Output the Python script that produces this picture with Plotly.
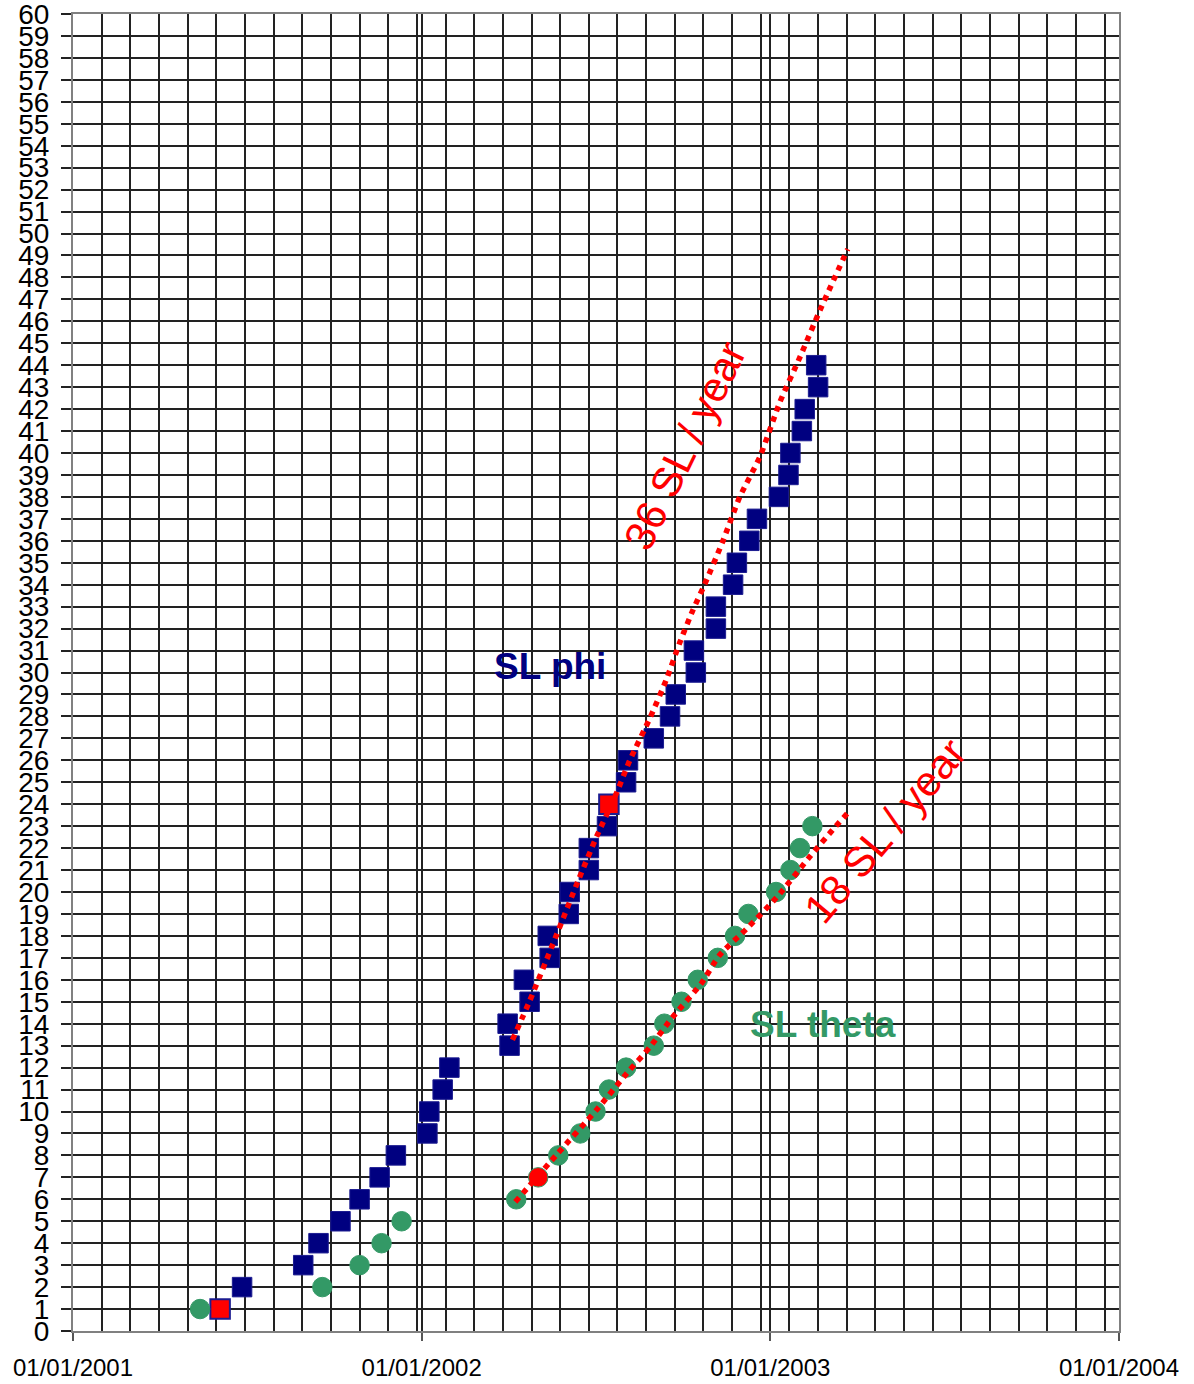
import plotly.graph_objects as go

# ---------------- data ----------------
phi_dates = [
    "2001-06-04", "2001-06-27", "2001-08-30", "2001-09-15", "2001-10-08",
    "2001-10-28", "2001-11-18", "2001-12-05", "2002-01-07", "2002-01-09",
    "2002-01-23", "2002-01-30", "2002-04-03", "2002-04-01", "2002-04-24",
    "2002-04-18", "2002-05-15", "2002-05-13", "2002-06-04", "2002-06-05",
    "2002-06-25", "2002-06-25", "2002-07-14", "2002-07-16", "2002-08-03",
    "2002-08-05", "2002-09-01", "2002-09-18", "2002-09-24", "2002-10-15",
    "2002-10-13", "2002-11-05", "2002-11-05", "2002-11-23", "2002-11-27",
    "2002-12-10", "2002-12-18", "2003-01-10", "2003-01-20", "2003-01-22",
    "2003-02-03", "2003-02-06", "2003-02-20", "2003-02-18",
]
phi_counts = [
    1, 2, 3, 4, 5, 6, 7, 8, 9, 10, 11, 12, 13, 14, 15, 16, 17, 18, 19, 20, 21, 22,
    23, 24, 25, 26, 27, 28, 29, 30, 31, 32, 33, 34, 35, 36, 37, 38, 39, 40, 41, 42, 43, 44,
]
phi_highlight = [0, 23]   # points drawn in red

theta_dates = [
    "2001-05-14", "2001-09-19", "2001-10-28", "2001-11-20", "2001-12-11",
    "2002-04-10", "2002-05-03", "2002-05-24", "2002-06-16", "2002-07-02",
    "2002-07-16", "2002-08-03", "2002-09-01", "2002-09-12", "2002-09-30",
    "2002-10-17", "2002-11-07", "2002-11-25", "2002-12-09", "2003-01-07",
    "2003-01-22", "2003-02-01", "2003-02-14",
]
theta_counts = [1, 2, 3, 4, 5, 6, 7, 8, 9, 10, 11, 12, 13, 14, 15, 16, 17, 18, 19, 20, 21, 22, 23]
theta_highlight = [6]

phi_trend_dates = [
    "2002-04-06", "2002-04-24", "2002-05-18", "2002-06-15", "2002-07-03",
    "2002-07-24", "2002-08-07", "2002-08-28", "2002-09-14", "2002-09-28",
    "2002-10-12", "2002-10-24", "2002-11-12", "2002-11-30", "2002-12-21",
    "2003-01-11", "2003-02-01", "2003-02-22", "2003-03-23",
]
phi_trend_values = [
    13.26, 15.03, 17.59, 20.64, 22.51, 24.51, 26.01, 27.93, 29.66, 31.34,
    32.85, 33.99, 35.95, 38.0, 39.82, 42.32, 44.37, 46.51, 49.29,
]

theta_trend_dates = [
    "2002-04-09", "2002-05-22", "2002-07-03", "2002-08-04", "2002-08-28",
    "2002-09-20", "2002-10-21", "2002-11-09", "2002-12-08", "2003-01-08",
    "2003-02-11", "2003-03-07", "2003-03-23",
]
theta_trend_values = [5.88, 8.02, 10.07, 11.75, 12.94, 14.26, 15.85, 17.13, 18.36, 19.77, 21.59, 22.82, 23.6]

x_tick_vals = ["2001-01-01", "2002-01-01", "2003-01-01", "2004-01-01"]
x_tick_text = ["01/01/2001", "01/01/2002", "01/01/2003", "01/01/2004"]
y_tick_vals = list(range(0, 61))

# ---------------- styling ----------------
NAVY = "#000080"
GREEN = "#339966"
RED = "#FF0000"
GRID = "#222222"
FONT = "Liberation Sans, Arial, sans-serif"

phi_colors = [RED if i in phi_highlight else NAVY for i in range(len(phi_dates))]
phi_line_w = [2 if i in phi_highlight else 1 for i in range(len(phi_dates))]
theta_colors = [RED if i in theta_highlight else GREEN for i in range(len(theta_dates))]
theta_line_c = [GREEN for _ in theta_dates]

fig = go.Figure()

fig.add_trace(go.Scatter(
    x=phi_dates, y=phi_counts, mode="markers", name="SL phi",
    marker=dict(symbol="square", size=19.5, color=phi_colors,
                line=dict(color="#1c1c90", width=phi_line_w)),
))
fig.add_trace(go.Scatter(
    x=theta_dates, y=theta_counts, mode="markers", name="SL theta",
    marker=dict(symbol="circle", size=19.5, color=theta_colors,
                line=dict(color=theta_line_c, width=1)),
))
fig.add_trace(go.Scatter(
    x=phi_trend_dates, y=phi_trend_values, mode="lines", name="36 SL / year",
    line=dict(color=RED, width=5.5, dash="dot", shape="spline", smoothing=0.6),
))
fig.add_trace(go.Scatter(
    x=theta_trend_dates, y=theta_trend_values, mode="lines", name="18 SL / year",
    line=dict(color=RED, width=5.5, dash="dot", shape="spline", smoothing=0.6),
))

fig.update_layout(
    width=1194, height=1384,
    margin=dict(l=73, r=75, t=14, b=53, pad=0),
    paper_bgcolor="white", plot_bgcolor="white",
    showlegend=False,
    font=dict(family=FONT, color="black"),
)

fig.update_xaxes(
    type="date", range=["2001-01-01", "2004-01-01"],
    tickmode="array", tickvals=x_tick_vals, ticktext=x_tick_text,
    tickfont=dict(size=24, family=FONT, color="black"),
    ticks="outside", ticklen=8, tickwidth=1.5, tickcolor="#555555",
    ticklabelstandoff=6, ticklabeloverflow="allow",
    showgrid=True, gridcolor=GRID, gridwidth=1.5,
    minor=dict(tickmode="linear", tick0="2001-01-01", dtick=30 * 86400000,
               showgrid=True, gridcolor=GRID, gridwidth=1.5, ticks=""),
    showline=True, linecolor="#808080", linewidth=2, mirror=True,
    zeroline=False, automargin=False,
)
fig.update_yaxes(
    range=[0, 60], tickmode="array", tickvals=y_tick_vals,
    tickfont=dict(size=28, family=FONT, color="black"),
    ticks="outside", ticklen=10, tickwidth=1.5, tickcolor=GRID,
    ticklabelstandoff=6, ticklabeloverflow="allow",
    showgrid=True, gridcolor=GRID, gridwidth=1.5,
    showline=True, linecolor="#808080", linewidth=2, mirror=True,
    zeroline=False, automargin=False,
)

fig.add_annotation(x=0.4557, y=0.5049, xref="paper", yref="paper", text="<b>SL phi</b>",
                   showarrow=False, font=dict(size=37, color=NAVY, family=FONT),
                   xanchor="center", yanchor="middle")
fig.add_annotation(x=0.7167, y=0.2331, xref="paper", yref="paper", text="<b>SL theta</b>",
                   showarrow=False, font=dict(size=37, color=GREEN, family=FONT),
                   xanchor="center", yanchor="middle")
fig.add_annotation(x=0.5855, y=0.6720, xref="paper", yref="paper", text="36 SL / year",
                   showarrow=False, textangle=-64, font=dict(size=42, color=RED, family=FONT),
                   xanchor="center", yanchor="middle")
fig.add_annotation(x=0.7768, y=0.3797, xref="paper", yref="paper", text="18 SL / year",
                   showarrow=False, textangle=-50, font=dict(size=42, color=RED, family=FONT),
                   xanchor="center", yanchor="middle")

fig.write_html("out.html", config={"displayModeBar": False},
               post_script="document.body.style.margin='0';")
